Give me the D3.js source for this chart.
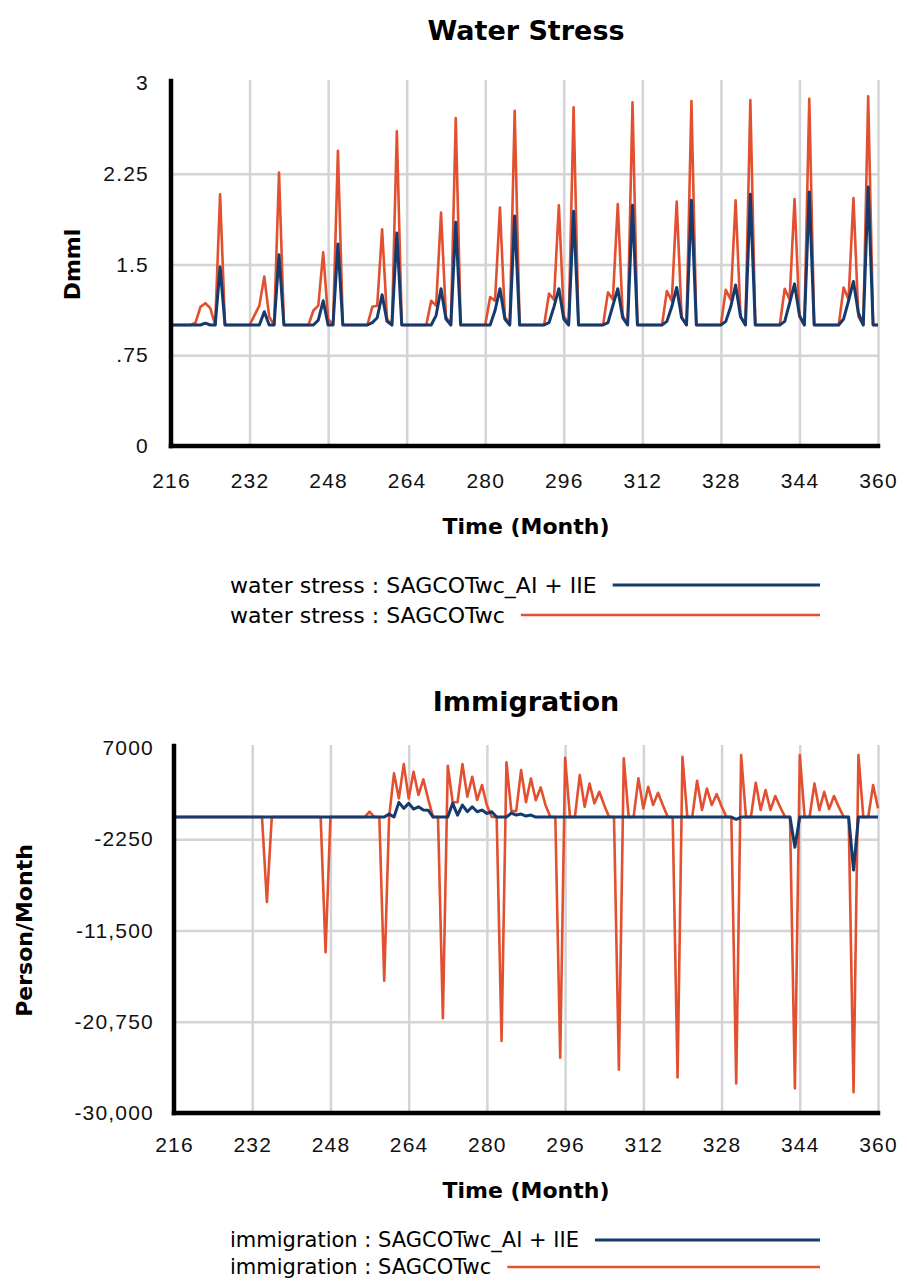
<!DOCTYPE html>
<html lang="en">
<head>
<meta charset="utf-8">
<title>Water Stress and Immigration</title>
<script src="https://d3js.org/d3.v7.min.js"></script>
<style>
  body { margin: 0; background: #fff; }
  svg { font-family: "DejaVu Sans", sans-serif; }
  .grid line { stroke: #d4d4d4; stroke-width: 2.5; }
  .grid path { display: none; }
  .axis path { stroke: #000; stroke-width: 4.5; stroke-linecap: square; }
  .axis text { fill: #111; font-size: 21px; letter-spacing: 1.2px; }
</style>
</head>
<body>
<svg id="chart" width="907" height="1282"></svg>
<script>
// months run from 216 to 360, one value per month
const firstMonth = 216;
const monthTicks = [216, 232, 248, 264, 280, 296, 312, 328, 344, 360];

const waterTicks = [0, 0.75, 1.5, 2.25, 3];
const waterTickLabels = ["0", ".75", "1.5", "2.25", "3"];

const waterAI = [
  1, 1, 1, 1, 1, 1, 1, 1.015, 1, 1, 1.48, 1,
  1, 1, 1, 1, 1, 1, 1, 1.11, 1, 1, 1.58, 1,
  1, 1, 1, 1, 1, 1, 1.04, 1.20, 1, 1, 1.67, 1,
  1, 1, 1, 1, 1, 1.02, 1.06, 1.25, 1.03, 1, 1.76, 1,
  1, 1, 1, 1, 1, 1, 1.08, 1.30, 1.05, 1, 1.85, 1,
  1, 1, 1, 1, 1, 1, 1.12, 1.30, 1.05, 1, 1.90, 1,
  1, 1, 1, 1, 1, 1.02, 1.15, 1.30, 1.05, 1, 1.94, 1,
  1, 1, 1, 1, 1, 1.02, 1.16, 1.30, 1.06, 1, 1.99, 1,
  1, 1, 1, 1, 1, 1.03, 1.15, 1.31, 1.06, 1, 2.03, 1,
  1, 1, 1, 1, 1, 1.03, 1.15, 1.33, 1.07, 1, 2.08, 1,
  1, 1, 1, 1, 1, 1.03, 1.18, 1.34, 1.08, 1, 2.10, 1,
  1, 1, 1, 1, 1, 1.05, 1.20, 1.36, 1.10, 1, 2.14, 1,
  1
];

const waterWC = [
  1, 1, 1, 1, 1, 1.02, 1.15, 1.18, 1.14, 1, 2.08, 1,
  1, 1, 1, 1, 1, 1.08, 1.16, 1.40, 1.07, 1, 2.26, 1,
  1, 1, 1, 1, 1, 1.12, 1.16, 1.60, 1.05, 1, 2.44, 1,
  1, 1, 1, 1, 1, 1.15, 1.16, 1.79, 1.05, 1, 2.60, 1,
  1, 1, 1, 1, 1, 1.20, 1.16, 1.93, 1.07, 1, 2.71, 1,
  1, 1, 1, 1, 1, 1.23, 1.20, 1.97, 1.07, 1, 2.77, 1,
  1, 1, 1, 1, 1, 1.26, 1.21, 1.99, 1.08, 1, 2.80, 1,
  1, 1, 1, 1, 1, 1.27, 1.21, 2.00, 1.08, 1, 2.84, 1,
  1, 1, 1, 1, 1, 1.28, 1.20, 2.02, 1.07, 1, 2.85, 1,
  1, 1, 1, 1, 1, 1.29, 1.21, 2.03, 1.07, 1, 2.86, 1,
  1, 1, 1, 1, 1, 1.30, 1.21, 2.04, 1.07, 1, 2.87, 1,
  1, 1, 1, 1, 1, 1.31, 1.21, 2.05, 1.07, 1, 2.89, 1,
  1
];

const immTicks = [-30000, -20750, -11500, -2250, 7000];
const immTickLabels = ["-30,000", "-20,750", "-11,500", "-2250", "7000"];

const immAI = [
  0, 0, 0, 0, 0, 0, 0, 0, 0, 0, 0, 0,
  0, 0, 0, 0, 0, 0, 0, 0, 0, 0, 0, 0,
  0, 0, 0, 0, 0, 0, 0, 0, 0, 0, 0, 0,
  0, 0, 0, 0, 0, 0, 0, 0, 300, 0, 1490, 880,
  1390, 810, 1040, 710, 700, 0, 0, 0, 0, 1390, 200, 1220,
  540, 1040, 540, 710, 370, 540, 0, 0, 0, 400, 200, 300,
  100, 200, 0, 0, 0, 0, 0, 0, 0, 0, 0, 0,
  0, 0, 0, 0, 0, 0, 0, 0, 0, 0, 0, 0,
  0, 0, 0, 0, 0, 0, 0, 0, 0, 0, 0, 0,
  0, 0, 0, 0, 0, 0, 0, -230, 0, 0, 0, 0,
  0, 0, 0, 0, 0, 0, 0, -3070, 0, 0, 0, 0,
  0, 0, 0, 0, 0, 0, 0, -5370, 0, 0, 0, 0,
  0
];

const immWC = [
  0, 0, 0, 0, 0, 0, 0, 0, 0, 0, 0, 0,
  0, 0, 0, 0, 0, 0, 0, -8600, 0, 0, 0, 0,
  0, 0, 0, 0, 0, 0, 0, -13700, 0, 0, 0, 0,
  0, 0, 0, 0, 550, 0, 0, -16600, 0, 4430, 1890, 5370,
  1890, 4590, 2230, 3820, 1800, 0, 0, -20400, 5200, 1500, 1500, 5370,
  2060, 4080, 1720, 3240, 1200, 0, 0, -22700, 5540, 600, 600, 4760,
  1500, 3900, 1700, 3000, 1200, 0, 0, -24400, 6000, 0, 0, 4250,
  1040, 3400, 1390, 2560, 1200, 0, 0, -25600, 5950, 0, 0, 3920,
  880, 3070, 1220, 2460, 1200, 0, 0, -26400, 6110, 0, 0, 3680,
  710, 2900, 1220, 2330, 1100, 0, 0, -27000, 6280, 0, 0, 3480,
  710, 2740, 710, 2130, 1000, 0, 0, -27500, 6280, 0, 0, 3400,
  700, 2560, 800, 2130, 1000, 0, 0, -27900, 6280, 0, 0, 3240,
  900
];

const blue = "#143a6e";
const orange = "#e2502f";

const svg = d3.select("#chart");

function drawPanel(cfg) {
  const x = d3.scaleLinear().domain([216, 360]).range([cfg.left, cfg.right]);
  const y = d3.scaleLinear().domain([cfg.yTicks[0], cfg.yTicks[cfg.yTicks.length - 1]]).range([cfg.bottom, cfg.top]);
  const g = svg.append("g");

  g.append("text")
    .attr("x", 526).attr("y", cfg.titleY)
    .attr("text-anchor", "middle")
    .attr("font-size", 27).attr("font-weight", "bold")
    .text(cfg.title);

  // grid
  g.append("g").attr("class", "grid")
    .attr("transform", `translate(0,${cfg.bottom})`)
    .call(d3.axisBottom(x).tickValues(monthTicks.slice(1)).tickSize(-(cfg.bottom - cfg.top + 3)).tickFormat(""));
  g.append("g").attr("class", "grid")
    .attr("transform", `translate(${cfg.left},0)`)
    .call(d3.axisLeft(y).tickValues(cfg.yTicks.slice(1, -1)).tickSize(-(cfg.right - cfg.left)).tickFormat(""));

  const line = d3.line()
    .x((d, i) => x(firstMonth + i))
    .y(d => y(d));

  g.append("path").datum(cfg.wc)
    .attr("fill", "none").attr("stroke", orange).attr("stroke-width", 2.6)
    .attr("stroke-linejoin", "round")
    .attr("d", line);
  g.append("path").datum(cfg.ai)
    .attr("fill", "none").attr("stroke", blue).attr("stroke-width", 3)
    .attr("stroke-linejoin", "round")
    .attr("d", line);

  // axes
  g.append("g").attr("class", "axis")
    .attr("transform", `translate(0,${cfg.bottom})`)
    .call(d3.axisBottom(x).tickValues(monthTicks).tickSize(0).tickSizeOuter(0).tickPadding(cfg.xPad))
    .call(a => a.select(".domain").attr("d", `M${cfg.left},0H${cfg.right}`));
  g.append("g").attr("class", "axis")
    .attr("transform", `translate(${cfg.left},0)`)
    .call(d3.axisLeft(y).tickValues(cfg.yTicks).tickSize(0).tickSizeOuter(0).tickPadding(cfg.yPad)
      .tickFormat((d, i) => cfg.yTickLabels[i]))
    .call(a => a.select(".domain").attr("d", `M0,${cfg.top - 2}V${cfg.bottom}`));

  g.append("text")
    .attr("transform", `translate(${cfg.yTitleX},${(cfg.top + cfg.bottom) / 2}) rotate(-90)`)
    .attr("text-anchor", "middle").attr("dy", "0.35em")
    .attr("font-size", 22).attr("font-weight", "bold")
    .text(cfg.yTitle);

  g.append("text")
    .attr("x", 526).attr("y", cfg.xTitleY)
    .attr("text-anchor", "middle")
    .attr("font-size", 22).attr("font-weight", "bold")
    .text("Time (Month)");

  // legend
  const items = [
    { label: cfg.legendName + " : SAGCOTwc_AI + IIE", color: blue, width: 3 },
    { label: cfg.legendName + " : SAGCOTwc", color: orange, width: 2.6 }
  ];
  items.forEach((it, i) => {
    const ly = cfg.legendY + i * cfg.legendGap;
    const t = g.append("text")
      .attr("x", 230).attr("y", ly).attr("dy", "0.35em")
      .attr("font-size", cfg.legendSize)
      .text(it.label);
    const end = 230 + t.node().getComputedTextLength();
    g.append("line")
      .attr("x1", end + 16).attr("x2", 820)
      .attr("y1", ly).attr("y2", ly)
      .attr("stroke", it.color).attr("stroke-width", it.width);
  });
}

drawPanel({
  title: "Water Stress", titleY: 40,
  left: 171, right: 878, top: 83, bottom: 446,
  yTicks: waterTicks, yTickLabels: waterTickLabels,
  ai: waterAI, wc: waterWC,
  xPad: 27, yPad: 22,
  yTitle: "Dmml", yTitleX: 72,
  xTitleY: 534,
  legendName: "water stress", legendY: 585, legendGap: 30, legendSize: 22
});

drawPanel({
  title: "Immigration", titleY: 711,
  left: 174, right: 878, top: 748, bottom: 1113,
  yTicks: immTicks, yTickLabels: immTickLabels,
  ai: immAI, wc: immWC,
  xPad: 24, yPad: 20,
  yTitle: "Person/Month", yTitleX: 24,
  xTitleY: 1198,
  legendName: "immigration", legendY: 1240, legendGap: 27, legendSize: 21
});
</script>
</body>
</html>
